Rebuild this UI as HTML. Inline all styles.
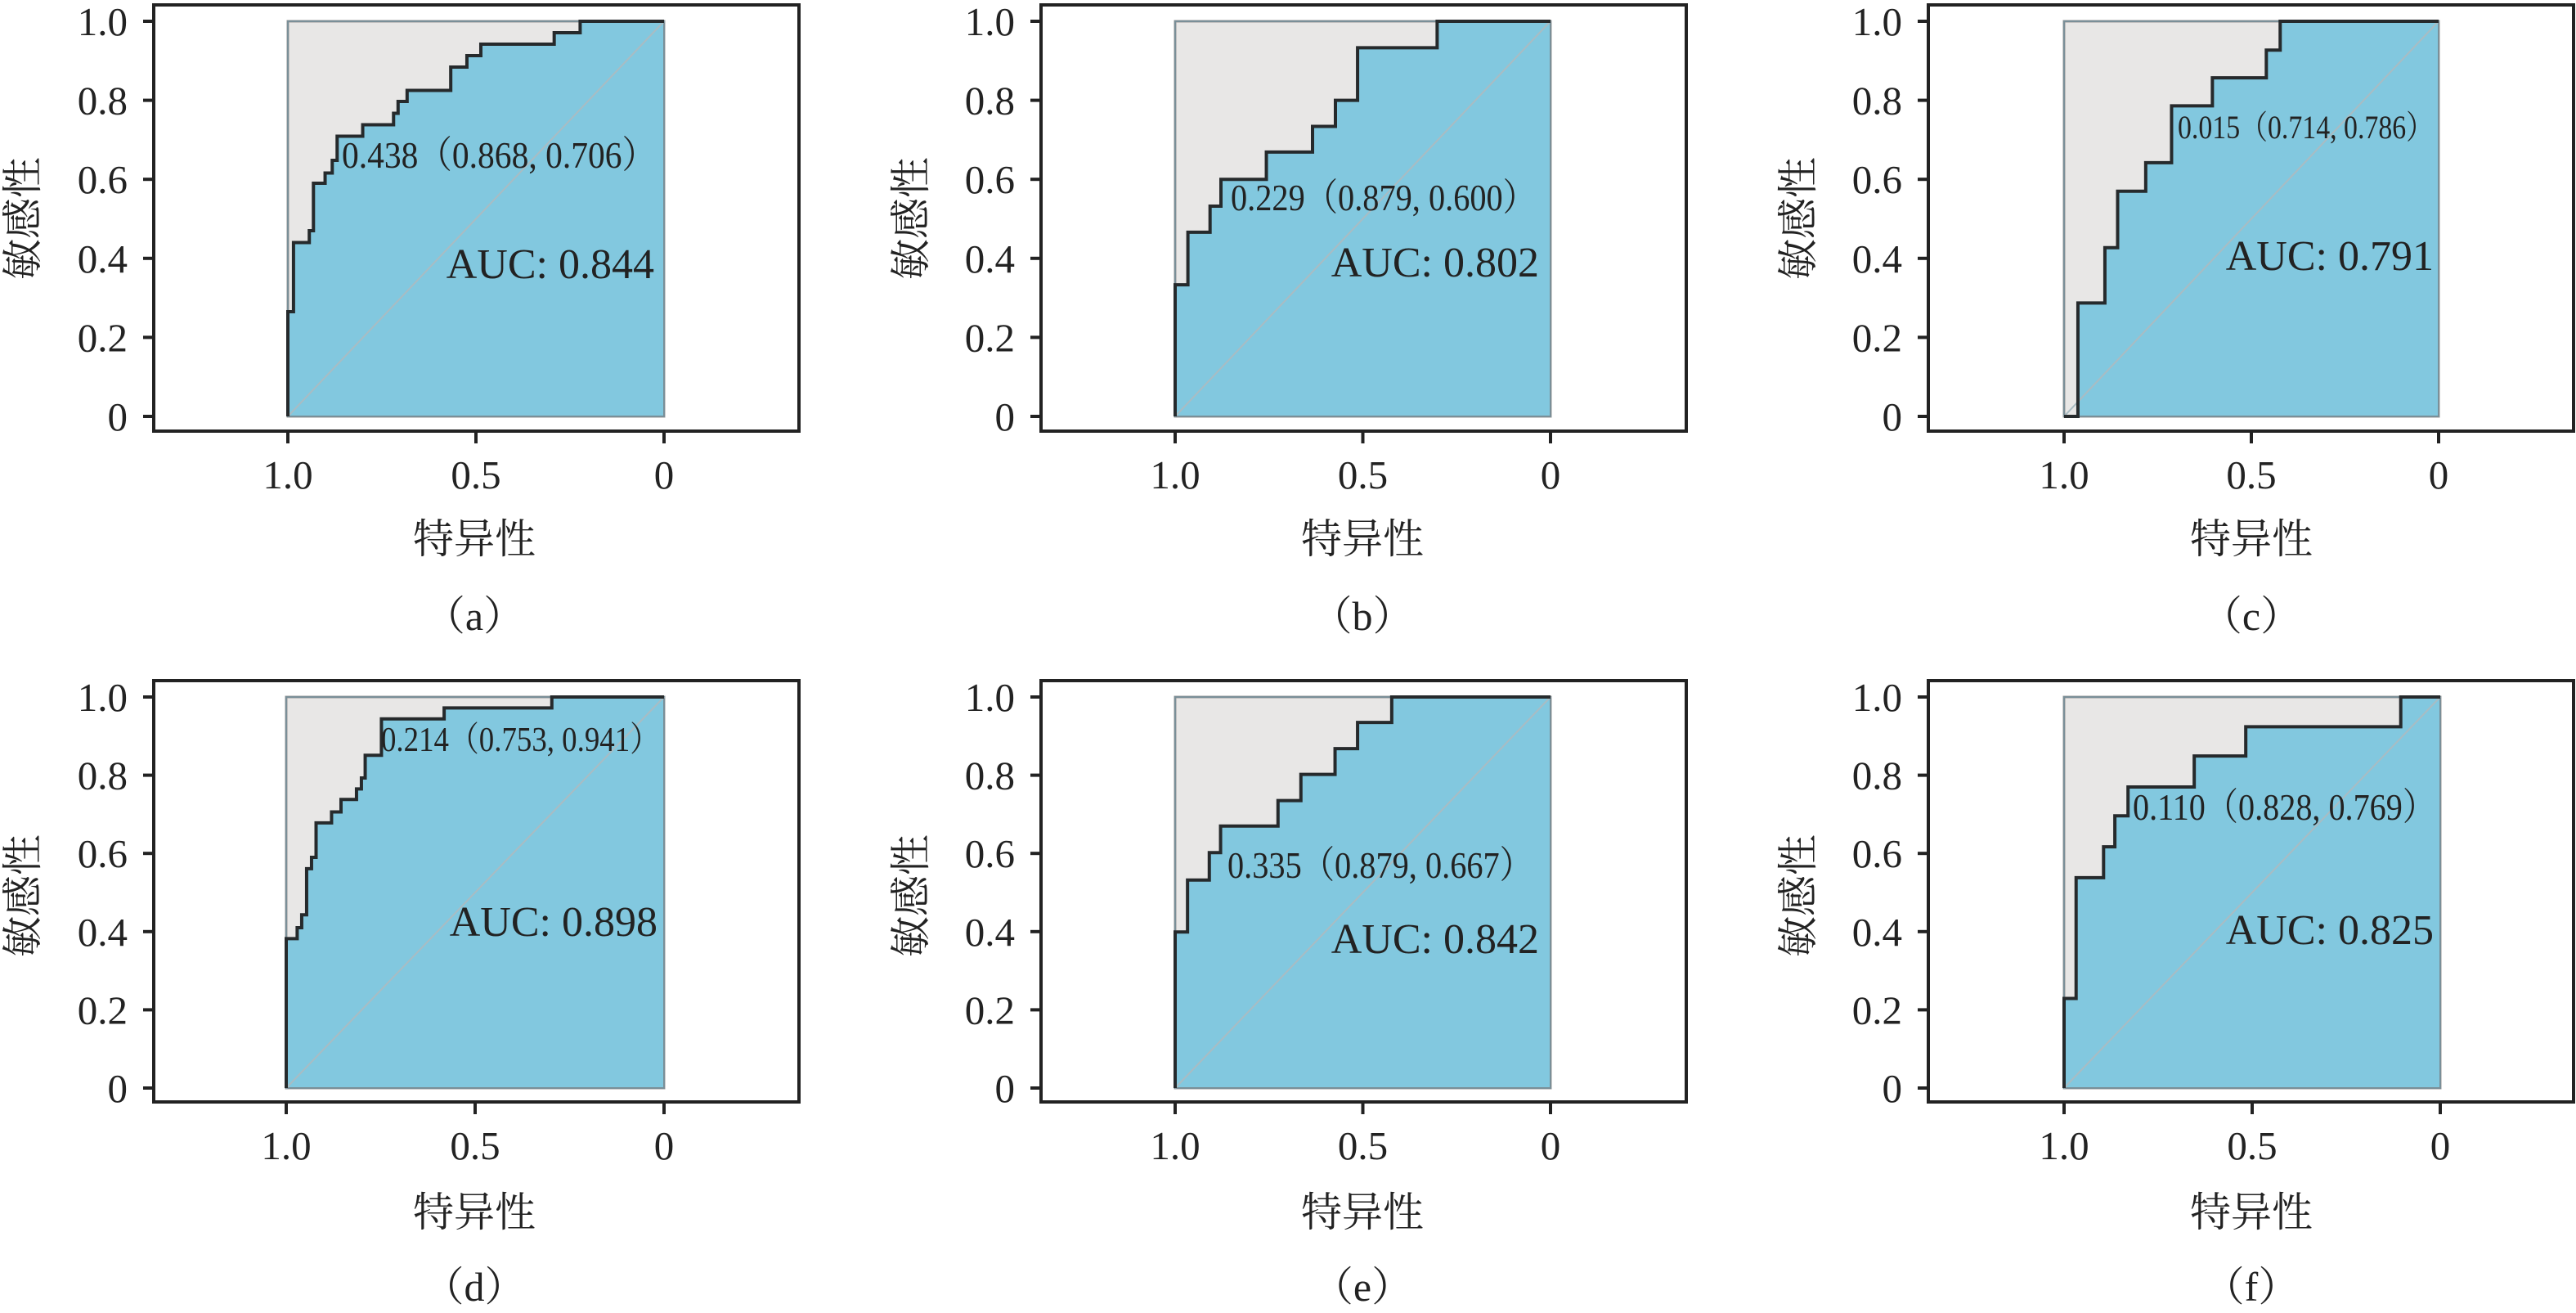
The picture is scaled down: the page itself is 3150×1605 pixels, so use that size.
<!DOCTYPE html>
<html><head><meta charset="utf-8"><style>
html,body{margin:0;padding:0;background:#fff;}
svg{display:block;}
text{font-family:"Liberation Serif","Noto Serif CJK SC","Noto Sans CJK SC",serif;fill:#222;}
</style></head><body>
<svg id="s" width="3150" height="1605" viewBox="0 0 3150 1605" xmlns="http://www.w3.org/2000/svg">
<g id="plots"></g>
<g font-size="46"><text x="418" y="205" textLength="384" lengthAdjust="spacingAndGlyphs">0.438（0.868, 0.706）</text></g>
<g font-size="52"><text x="800" y="340" text-anchor="end">AUC: 0.844</text></g>
<g font-size="46"><text x="1505" y="257" textLength="373" lengthAdjust="spacingAndGlyphs">0.229（0.879, 0.600）</text></g>
<g font-size="52"><text x="1882" y="338" text-anchor="end">AUC: 0.802</text></g>
<g font-size="40"><text x="2663" y="169" textLength="313" lengthAdjust="spacingAndGlyphs">0.015（0.714, 0.786）</text></g>
<g font-size="52"><text x="2976" y="330" text-anchor="end">AUC: 0.791</text></g>
<g font-size="42"><text x="466" y="918" textLength="341" lengthAdjust="spacingAndGlyphs">0.214（0.753, 0.941）</text></g>
<g font-size="52"><text x="804" y="1144" text-anchor="end">AUC: 0.898</text></g>
<g font-size="46"><text x="1501" y="1073" textLength="373" lengthAdjust="spacingAndGlyphs">0.335（0.879, 0.667）</text></g>
<g font-size="52"><text x="1882" y="1165" text-anchor="end">AUC: 0.842</text></g>
<g font-size="46"><text x="2608" y="1002" textLength="370" lengthAdjust="spacingAndGlyphs">0.110（0.828, 0.769）</text></g>
<g font-size="52"><text x="2976" y="1154" text-anchor="end">AUC: 0.825</text></g>

<g font-size="50" text-anchor="middle">
<text x="580" y="676">特异性</text><text x="1666" y="676">特异性</text><text x="2753" y="676">特异性</text>
<text x="580" y="1499">特异性</text><text x="1666" y="1499">特异性</text><text x="2753" y="1499">特异性</text>
<text x="580" y="770">（a）</text><text x="1666" y="770">（b）</text><text x="2753" y="770">（c）</text>
<text x="580" y="1590">（d）</text><text x="1666" y="1590">（e）</text><text x="2753" y="1590">（f）</text>
<text transform="translate(45,267) rotate(-90)">敏感性</text>
<text transform="translate(1131,267) rotate(-90)">敏感性</text>
<text transform="translate(2216,267) rotate(-90)">敏感性</text>
<text transform="translate(45,1095) rotate(-90)">敏感性</text>
<text transform="translate(1131,1095) rotate(-90)">敏感性</text>
<text transform="translate(2216,1095) rotate(-90)">敏感性</text>
</g>
<g id="ticks" font-size="49"></g>
</svg>
<script>
var NS="http://www.w3.org/2000/svg";
function el(p,t,a){var e=document.createElementNS(NS,t);for(var k in a)e.setAttribute(k,a[k]);p.appendChild(e);return e;}
var P=[
 {bx:188,by:6,bw:789,bh:521,x1:352,x0:812,y1:26,y0:509,
  s:[[0,.265],[.015,.44],[.057,.47],[.068,.59],[.099,.616],[.118,.648],[.131,.709],[.199,.738],[.281,.767],[.293,.797],[.317,.825],[.433,.884],[.476,.913],[.513,.942],[.708,.971],[.777,1]]},
 {bx:1273,by:6,bw:789,bh:521,x1:1437,x0:1896,y1:26,y0:509,
  s:[[0,.333],[.034,.466],[.093,.532],[.122,.6],[.243,.669],[.366,.734],[.427,.8],[.486,.933],[.698,1]]},
 {bx:2358,by:6,bw:789,bh:521,x1:2524,x0:2982,y1:26,y0:509,
  s:[[0,0],[.037,.287],[.109,.427],[.143,.57],[.218,.642],[.287,.786],[.396,.857],[.54,.927],[.577,1]]},
 {bx:188,by:832,bw:789,bh:515,x1:350,x0:812,y1:852,y0:1330,
  s:[[0,.382],[.029,.41],[.041,.443],[.054,.561],[.067,.59],[.079,.678],[.12,.706],[.145,.738],[.186,.765],[.199,.793],[.209,.851],[.252,.944],[.418,.972],[.703,1]]},
 {bx:1273,by:832,bw:789,bh:515,x1:1437,x0:1896,y1:852,y0:1330,
  s:[[0,.399],[.033,.532],[.091,.602],[.121,.67],[.274,.735],[.335,.802],[.426,.868],[.486,.935],[.577,1]]},
 {bx:2358,by:832,bw:789,bh:515,x1:2524,x0:2984,y1:852,y0:1330,
  s:[[0,.229],[.032,.538],[.105,.617],[.135,.696],[.17,.77],[.346,.849],[.483,.924],[.895,1]]}
];
var g=document.getElementById('plots'),tg=document.getElementById('ticks');
P.forEach(function(p){
 function X(f){return p.x1+f*(p.x0-p.x1);} function Y(t){return p.y0-t*(p.y0-p.y1);}
 el(g,'rect',{x:p.x1,y:p.y1,width:p.x0-p.x1,height:p.y0-p.y1,fill:'#e8e7e6',stroke:'#9a9a9a','stroke-width':3});
 var d='M'+X(0)+','+Y(0);var cur=0;
 p.s.forEach(function(q){d+=' L'+X(q[0])+','+Y(cur)+' L'+X(q[0])+','+Y(q[1]);cur=q[1];});
 d+=' L'+X(1)+','+Y(1);
 el(g,'path',{d:d+' L'+X(1)+','+Y(0)+' Z',fill:'#82c8df',stroke:'none'});
 el(g,'rect',{x:p.x1,y:p.y1,width:p.x0-p.x1,height:p.y0-p.y1,fill:'none',stroke:'#7a8f98','stroke-width':2});
 el(g,'line',{x1:X(0),y1:Y(0),x2:X(1),y2:Y(1),stroke:'#a9bcc3','stroke-width':2});
 el(g,'path',{d:d,fill:'none',stroke:'#262a2c','stroke-width':4,'stroke-linejoin':'miter'});
 el(g,'rect',{x:p.bx,y:p.by,width:p.bw,height:p.bh,fill:'none',stroke:'#222','stroke-width':4});
 var yl=['0','0.2','0.4','0.6','0.8','1.0'];
 for(var i=0;i<6;i++){var yy=Y(i/5);
  el(tg,'line',{x1:p.bx-13,y1:yy,x2:p.bx,y2:yy,stroke:'#222','stroke-width':4});
  var t=el(tg,'text',{x:p.bx-32,y:yy+17,'text-anchor':'end'});t.textContent=yl[i];}
 [[0,'1.0'],[.5,'0.5'],[1,'0']].forEach(function(q){var xx=X(q[0]);var b=p.by+p.bh;
  el(tg,'line',{x1:xx,y1:b,x2:xx,y2:b+15,stroke:'#222','stroke-width':4});
  var t=el(tg,'text',{x:xx,y:b+70,'text-anchor':'middle'});t.textContent=q[1];});
});
</script>
</body></html>
